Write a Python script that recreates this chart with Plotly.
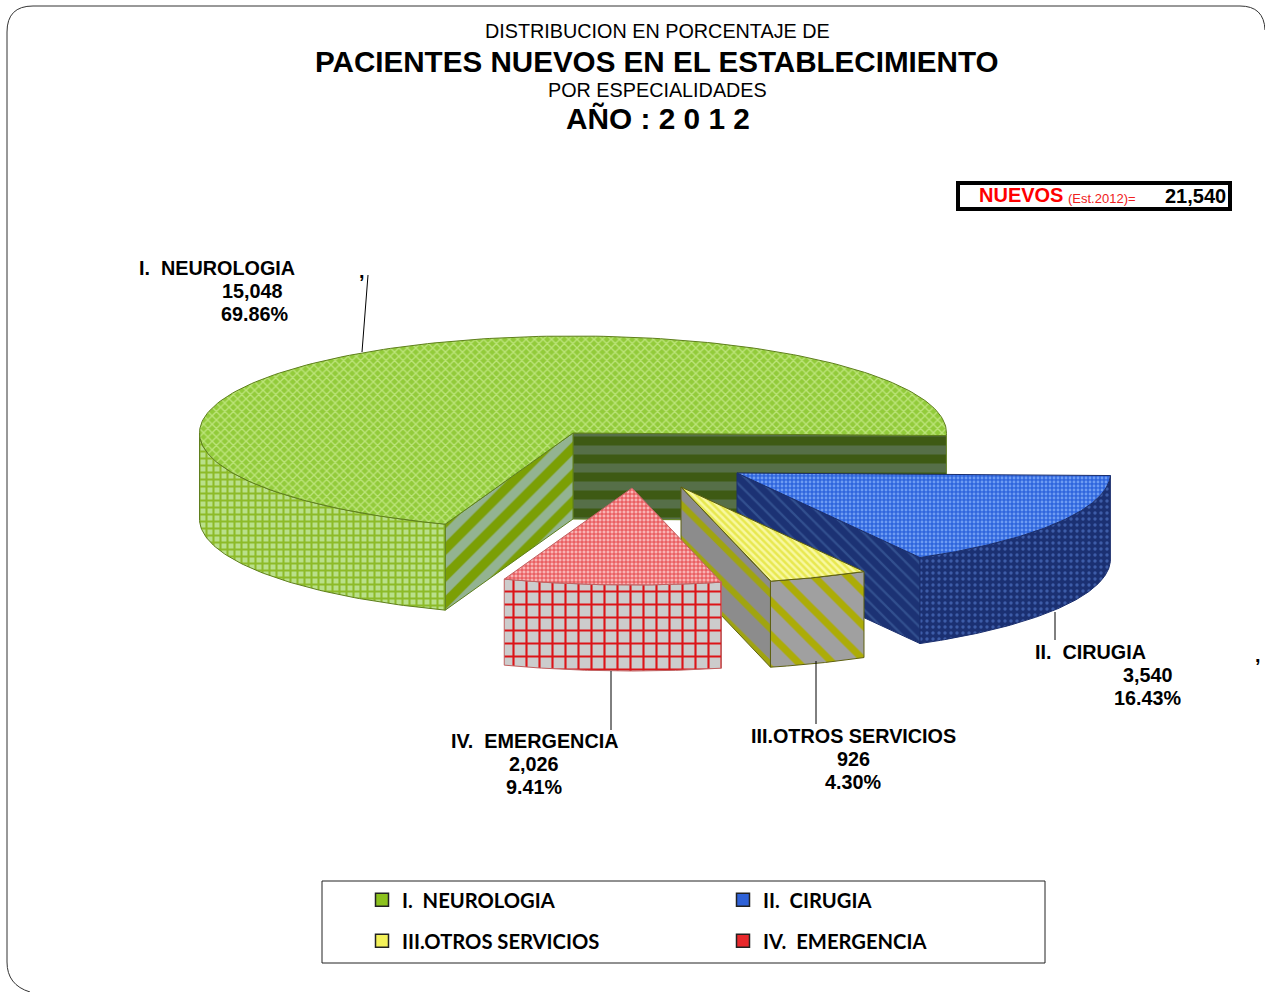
import math
import plotly.graph_objects as go

# ---------- data ----------
CATEGORIES = ["I.\u00a0\u00a0NEUROLOGIA", "II.\u00a0\u00a0CIRUGIA", "III.OTROS SERVICIOS", "IV.\u00a0\u00a0EMERGENCIA"]
VALUES = [15048, 3540, 926, 2026]
TITLE_LINES = ["DISTRIBUCION EN PORCENTAJE DE", "PACIENTES NUEVOS EN EL ESTABLECIMIENTO",
               "POR ESPECIALIDADES", "AÑO : 2 0 1 2"]

# ---------- layout constants (canvas pixels) ----------
W, H = 1265, 992
RX, RY, DEPTH = 373.5, 97, 86
ROTATION = -1.5
APEX = [(573, 433), (737, 473), (681, 487), (632, 488)]
SWATCH = ["#8CC21E", "#2F62D8", "#F4F25A", "#E8282C"]
OUTLINE = ["#5E7F1C", "#1B2F6E", "#5E6010", "#C06060"]


def pat(shape, size, fg, bg, solidity=0.5):
    return dict(shape=shape, size=size, fgcolor=fg, bgcolor=bg, solidity=solidity, fillmode="replace")


STYLES = [
    dict(top=pat("x", 6, "#BCE47A", "#92CB3A", 0.4), wall=pat("+", 7, "#8DBB28", "#B9E08A", 0.5),
         start=pat("-", 18, "#3E5A14", "#566F48", 0.5), end=pat("/", 19, "#7B9F05", "#93B391", 0.5)),
    dict(top=pat(".", 4, "#6E9CF2", "#2F66DE", 0.4), wall=pat(".", 6, "#3D5CA8", "#1B3072", 0.25),
         start=pat("\\", 9, "#32508F", "#1C3274", 0.25), end=pat("-", 9, "#32508F", "#1C3274", 0.25)),
    dict(top=pat("\\", 5, "#F8F8A0", "#E8E850", 0.5), wall=pat("\\", 24, "#ACAC08", "#A0A0A0", 0.3),
         start=pat("\\", 25, "#A0A410", "#8C8C8C", 0.25), end=pat("\\", 25, "#A0A410", "#8C8C8C", 0.25)),
    dict(top=pat("+", 4, "#E43C40", "#F8B4B4", 0.4), wall=pat("+", 13, "#DC1418", "#CCCCCC", 0.3),
         start=pat("+", 13, "#DC1418", "#CCCCCC", 0.3), end=pat("+", 13, "#DC1418", "#CCCCCC", 0.3)),
]

TOTAL = sum(VALUES)
DEG = [v / TOTAL * 360 for v in VALUES]
# first slice runs counter-clockwise from the rotation, the rest clockwise from it
SPANS = [(ROTATION, ROTATION + DEG[0])]
cursor = ROTATION
for d in DEG[1:]:
    SPANS.append((cursor - d, cursor))
    cursor -= d


def arc(cx, cy, a0, a1, dy=0, n=80):
    xs, ys = [], []
    for i in range(n + 1):
        a = math.radians(a0 + (a1 - a0) * i / n)
        xs.append(cx + RX * math.cos(a))
        ys.append(cy - RY * math.sin(a) + dy)
    return xs, ys


def poly(xs, ys, pattern, line):
    return go.Scatter(x=xs + xs[:1], y=ys + ys[:1], mode="lines", fill="toself", fillpattern=pattern,
                      fillcolor=pattern["bgcolor"], line=dict(color=line, width=1),
                      hoverinfo="skip", showlegend=False)


def face(cx, cy, ang, pattern, line):
    a = math.radians(ang)
    ex, ey = cx + RX * math.cos(a), cy - RY * math.sin(a)
    return poly([cx, ex, ex, cx], [cy, ey, ey + DEPTH, cy + DEPTH], pattern, line)


fig = go.Figure()
for (cx, cy), (a0, a1), st, ol in zip(APEX, SPANS, STYLES, OUTLINE):
    if math.sin(math.radians(a0 - 90)) < 0:
        fig.add_trace(face(cx, cy, a0, st["start"], ol))
    if math.sin(math.radians(a1 + 90)) < 0:
        fig.add_trace(face(cx, cy, a1, st["end"], ol))
    w0, w1 = a0, a1
    if a1 > 180:
        w0 = 180
    xs, ys = arc(cx, cy, w0, w1)
    xb, yb = arc(cx, cy, w0, w1, DEPTH)
    fig.add_trace(poly(xs + xb[::-1], ys + yb[::-1], st["wall"], ol))
    xs, ys = arc(cx, cy, a0, a1, n=200)
    fig.add_trace(poly([cx] + xs, [cy] + ys, st["top"], ol))

# legend entries, two rows
for i, (name, color) in enumerate(zip(CATEGORIES, SWATCH)):
    fig.add_trace(go.Scatter(x=[None], y=[None], mode="markers", name=name,
                             marker=dict(symbol="square", size=13, color=color, line=dict(color="#222", width=1.5)),
                             legend="legend" if i < 2 else "legend2", hoverinfo="skip"))


def txt(x, y, text, size=19.8, bold=True, color="black", anchor="center", family="Liberation Sans"):
    fig.add_annotation(x=x, y=y, text=text, showarrow=False, xanchor=anchor, yanchor="middle", xref="x", yref="y",
                       font=dict(family=family, size=size, color=color, weight="bold" if bold else "normal"))


# titles
txt(657, 31, TITLE_LINES[0], 19.8, False)
txt(657, 61, TITLE_LINES[1], 29.6)
txt(657, 90, TITLE_LINES[2], 19.8, False)
txt(657.5, 118, TITLE_LINES[3], 29.8)

# total box
fig.add_shape(type="rect", x0=958, y0=183, x1=1230, y1=209, line=dict(color="black", width=4), fillcolor="white")
txt(977, 195, "NUEVOS", 20, True, "#FF0000", "left")
txt(1066, 198, "(Est.2012)=", 13, False, "#F02020", "left")
txt(1228, 196, f"{TOTAL:,}", 20, True, "black", "right")

# data labels: name left edge, value centre, percent centre
LABEL_POS = [
    ((137, 268, "left"), (252, 291), (255, 314)),
    ((1033, 652, "left"), (1148, 675), (1148, 698)),
    ((749, 736, "left"), (853, 759), (853, 782)),
    ((449, 741, "left"), (534, 764), (534, 787)),
]
for name, v, (n, a, b) in zip(CATEGORIES, VALUES, LABEL_POS):
    txt(n[0], n[1], name, anchor=n[2])
    txt(a[0], a[1], f"{v:,}")
    txt(b[0], b[1], f"{v / TOTAL * 100:.2f}%")
txt(362, 271, ",")
txt(1258, 655, ",")

# leader lines
for x0, y0, x1, y1 in [(368, 275, 362, 352), (1055, 612, 1055, 640), (816, 661, 816, 724), (611, 671, 611, 730)]:
    fig.add_shape(type="line", x0=x0, y0=y0, x1=x1, y1=y1, line=dict(color="black", width=1))

# legend frame and outer rounded frame
fig.add_shape(type="rect", x0=322, y0=881, x1=1045, y1=963, line=dict(color="#222", width=1), fillcolor="rgba(0,0,0,0)")
fig.add_shape(type="path", path="M 30 992 Q 7 985 7 962 L 7 32 Q 7 6 33 6 L 1240 6 Q 1264 6 1265 30",
              line=dict(color="#333", width=1))

LEG = dict(orientation="h", xanchor="left", yanchor="middle", entrywidth=316, entrywidthmode="pixels",
           bgcolor="rgba(0,0,0,0)", itemclick=False, itemdoubleclick=False, itemwidth=30,
           font=dict(family="Lato", size=20.2, color="black", weight="bold"))
fig.update_layout(
    width=W, height=H, margin=dict(l=0, r=0, t=0, b=0), paper_bgcolor="white", plot_bgcolor="white",
    xaxis=dict(range=[0, W], visible=False, fixedrange=True),
    yaxis=dict(range=[H, 0], visible=False, fixedrange=True),
    showlegend=True,
    legend=dict(LEG, x=362 / W, y=1 - 900 / H),
    legend2=dict(LEG, x=362 / W, y=1 - 941 / H),
)
fig.write_html("out.html", config=dict(displayModeBar=False),
               post_script="document.body.style.margin='0';document.body.style.overflow='hidden';")
